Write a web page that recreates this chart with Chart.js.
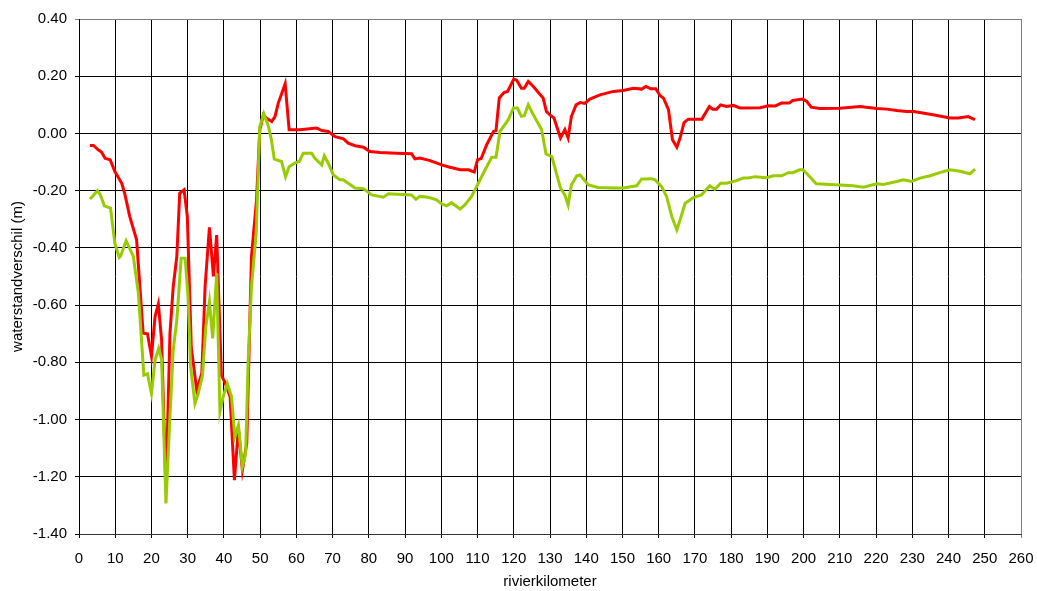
<!DOCTYPE html>
<html>
<head>
<meta charset="utf-8">
<script src="https://cdn.jsdelivr.net/npm/chart.js@4"></script>
<style>
  html, body { margin: 0; padding: 0; background: #fff; }
  #wrap { width: 1037px; height: 591px; position: relative; }
</style>
</head>
<body>
<div id="wrap"><canvas id="chart"></canvas></div>
<script>
// rivierkilometer + waterstandverschil (m), red series
const redKm = [3, 4, 5.3, 6.2, 7.2, 8.6, 9.9, 11.8, 12.6, 14, 15.9, 17.7, 18.9, 20, 21, 21.9, 22.8, 24, 25.1, 26, 27, 27.8, 29, 29.9, 31, 32.5, 33.9, 34.8, 36, 37.1, 38, 39.3, 40.2, 41.7, 42.9, 44, 45.1, 46.3, 47.6, 49, 49.9, 50.9, 51.8, 53.2, 54.1, 55, 56.9, 58, 61, 65.6, 67, 68.8, 70.7, 73, 74.3, 76.2, 78.5, 80.3, 83.1, 87.7, 91.8, 92.7, 94.1, 96.9, 100.1, 102.4, 105.2, 107.5, 109.1, 110, 111, 112.5, 114.4, 115.1, 116, 117.3, 118.3, 120, 120.8, 122.1, 122.9, 124, 125.4, 127.2, 128.1, 129, 130.2, 131.1, 132, 132.9, 134.1, 135, 135.9, 137.2, 138.3, 139.6, 141, 143.8, 147.5, 150.2, 153, 155.3, 156.5, 157.8, 159.2, 160.4, 161.3, 162.7, 163.8, 165, 165.9, 167, 168.2, 171.9, 174, 174.9, 176, 177.1, 178.7, 180.6, 182.4, 188, 190.3, 192.2, 193.9, 196, 197, 199.7, 200.8, 202.1, 204.5, 210, 215.6, 220.2, 223, 225.7, 228.4, 230.4, 235.7, 240.4, 242.7, 245.4, 247.3];
const redVal = [-0.042, -0.042, -0.057, -0.065, -0.087, -0.092, -0.133, -0.174, -0.209, -0.29, -0.372, -0.698, -0.70, -0.778, -0.64, -0.596, -0.722, -1.25, -0.70, -0.536, -0.43, -0.209, -0.197, -0.29, -0.75, -0.897, -0.838, -0.536, -0.328, -0.50, -0.355, -0.845, -0.868, -0.92, -1.212, -1.03, -1.177, -1.084, -0.43, -0.232, 0.013, 0.065, 0.053, 0.042, 0.059, 0.106, 0.174, 0.013, 0.013, 0.019, 0.010, 0.007, -0.011, -0.019, -0.034, -0.043, -0.048, -0.063, -0.067, -0.069, -0.071, -0.089, -0.086, -0.095, -0.11, -0.118, -0.127, -0.127, -0.135, -0.092, -0.088, -0.04, 0.007, 0.01, 0.124, 0.143, 0.147, 0.19, 0.186, 0.158, 0.158, 0.182, 0.164, 0.137, 0.124, 0.077, 0.062, 0.054, 0.019, -0.016, 0.013, -0.016, 0.059, 0.1, 0.108, 0.105, 0.12, 0.135, 0.147, 0.15, 0.158, 0.155, 0.164, 0.156, 0.156, 0.132, 0.124, 0.083, -0.022, -0.048, -0.016, 0.038, 0.05, 0.05, 0.094, 0.085, 0.085, 0.10, 0.094, 0.098, 0.089, 0.09, 0.097, 0.096, 0.106, 0.106, 0.115, 0.12, 0.113, 0.092, 0.087, 0.088, 0.094, 0.087, 0.085, 0.08, 0.077, 0.077, 0.065, 0.054, 0.054, 0.059, 0.048];

// green series
const greenKm = [3, 3.9, 5.1, 5.9, 7, 8.7, 9.9, 11.1, 11.5, 13, 15, 16.4, 17.9, 18.9, 20, 21, 22, 22.8, 24, 25.1, 26, 27, 28.2, 29.3, 30.1, 30.8, 32, 32.9, 34.1, 35, 36, 36.9, 38, 38.9, 39.8, 40.9, 42.1, 43, 44, 45.1, 46, 46.7, 47.6, 48.9, 49.9, 51, 52.3, 53.1, 53.9, 55.9, 57, 58, 59.5, 60.8, 61.9, 64.2, 65.1, 67, 67.7, 68.8, 70.2, 72, 72.9, 76.2, 78.5, 80.8, 84, 85.4, 91.8, 93, 94.1, 96.4, 98.7, 100.1, 101.5, 102.8, 105.2, 106.5, 108.3, 109.3, 110.2, 111.6, 113.9, 115.1, 116.2, 118.5, 119.9, 121, 122.1, 122.9, 124, 125.4, 127.7, 128.9, 130.5, 132.9, 134.1, 135, 135.9, 137.4, 138.3, 140.6, 143.3, 147.5, 150.2, 153.9, 155.3, 156.7, 158, 159, 160.8, 162.2, 163.6, 165, 165.9, 167.3, 169.6, 171.8, 174.1, 175.5, 177.1, 178.7, 181.5, 183.3, 184.7, 186.6, 189.8, 191.6, 193.9, 195.8, 197, 198.9, 199.8, 200.8, 203.5, 210, 213.7, 216.5, 220.2, 222, 225.7, 227.5, 229.8, 232.1, 234.9, 237.6, 240.4, 243.2, 245.9, 247.3];
const greenVal = [-0.229, -0.218, -0.20, -0.215, -0.253, -0.261, -0.384, -0.433, -0.428, -0.375, -0.43, -0.56, -0.845, -0.84, -0.909, -0.792, -0.751, -0.79, -1.293, -0.99, -0.757, -0.652, -0.436, -0.436, -0.571, -0.815, -0.944, -0.91, -0.845, -0.676, -0.588, -0.716, -0.489, -0.973, -0.92, -0.874, -0.92, -1.06, -1.02, -1.165, -1.12, -0.792, -0.536, -0.349, 0.024, 0.069, 0.024, -0.022, -0.09, -0.098, -0.151, -0.116, -0.104, -0.098, -0.069, -0.069, -0.087, -0.11, -0.078, -0.104, -0.145, -0.162, -0.162, -0.191, -0.193, -0.215, -0.223, -0.211, -0.215, -0.23, -0.22, -0.223, -0.232, -0.246, -0.253, -0.242, -0.264, -0.25, -0.221, -0.197, -0.174, -0.139, -0.083, -0.083, 0.007, 0.048, 0.089, 0.089, 0.06, 0.062, 0.1, 0.065, 0.013, -0.072, -0.081, -0.191, -0.215, -0.25, -0.18, -0.148, -0.145, -0.18, -0.189, -0.191, -0.191, -0.183, -0.159, -0.159, -0.158, -0.162, -0.186, -0.221, -0.29, -0.337, -0.302, -0.244, -0.224, -0.215, -0.183, -0.195, -0.174, -0.174, -0.165, -0.156, -0.156, -0.151, -0.155, -0.148, -0.148, -0.137, -0.137, -0.127, -0.127, -0.139, -0.176, -0.18, -0.183, -0.188, -0.176, -0.178, -0.168, -0.162, -0.168, -0.156, -0.148, -0.137, -0.127, -0.132, -0.141, -0.125];

const xTitle = 'rivierkilometer';
const yTitle = 'waterstandverschil (m)';

const toPoints = (xs, ys) => xs.map((x, i) => ({ x: x, y: ys[i] }));
const font = { family: 'Arial, "Liberation Sans", sans-serif', size: 15 };

const ctx = document.getElementById('chart').getContext('2d');
new Chart(ctx, {
    type: 'line',
    data: {
        datasets: [
            {
                // green first so it is drawn on top
                data: toPoints(greenKm, greenVal),
                borderColor: '#99cc00',
                borderWidth: 3,
                pointRadius: 0,
                tension: 0
            },
            {
                data: toPoints(redKm, redVal),
                borderColor: '#ff0000',
                borderWidth: 3,
                pointRadius: 0,
                tension: 0
            }
        ]
    },
    options: {
        responsive: true,
        maintainAspectRatio: false,
        animation: false,
        layout: { padding: { top: 19, right: 16, left: 0, bottom: 0 } },
        plugins: {
            legend: { display: false },
            tooltip: { enabled: false }
        },
        scales: {
            x: {
                type: 'linear',
                min: 0,
                max: 260,
                afterFit: s => { s.height = 57; s.paddingLeft = 0; s.paddingRight = 0; },
                border: { color: '#333', width: 1 },
                grid: {
                    color: c => (c.tick && c.tick.value === 260 ? '#808080' : '#000'),
                    lineWidth: 1,
                    tickLength: 4
                },
                ticks: { stepSize: 10, color: '#000', font: font, padding: 12, maxRotation: 0 },
                title: { display: true, text: xTitle, color: '#000', font: font, padding: { top: 0, bottom: 0 } }
            },
            y: {
                min: -1.4,
                max: 0.4,
                afterFit: s => { s.width = 79; s.paddingTop = 0; s.paddingBottom = 0; },
                border: { color: '#000', width: 1 },
                grid: {
                    color: c => (c.tick && Math.abs(c.tick.value - 0.4) < 1e-6 ? '#808080' : '#000'),
                    lineWidth: 1,
                    tickLength: 4
                },
                ticks: {
                    stepSize: 0.2,
                    color: '#000',
                    font: font,
                    padding: 8,
                    callback: v => v.toFixed(2)
                },
                title: { display: true, text: yTitle, color: '#000', font: font, padding: { top: 9, bottom: 0 } }
            }
        }
    }
});
</script>
</body>
</html>
